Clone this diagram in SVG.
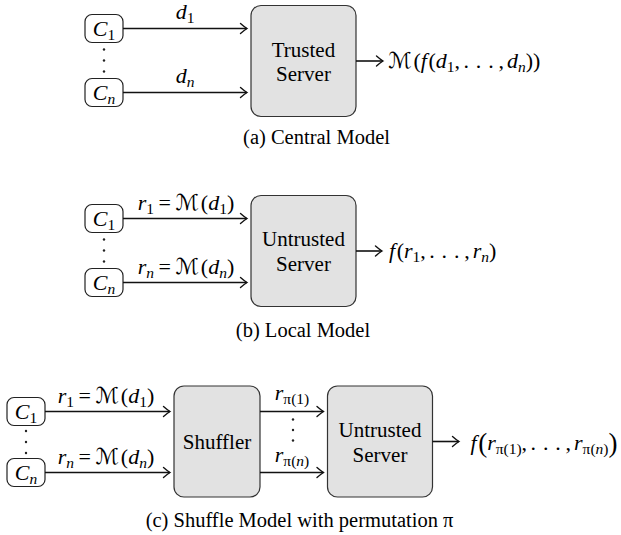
<svg xmlns="http://www.w3.org/2000/svg" width="621" height="535" viewBox="0 0 621 535">
<style>
.t{font-family:"Liberation Serif","Times New Roman","DejaVu Serif",serif;font-size:20.5px;fill:#000}
.b{font-size:21px}
.m{font-size:22px}
.i{font-style:italic}
.s{font-size:15.5px}
.cal{font-family:"DejaVu Serif","DejaVu Sans",serif;font-style:normal}
.big{font-size:27px}
.dots{letter-spacing:6.8px}
.box{fill:#e2e2e2;stroke:#333;stroke-width:1.2}
.cbox{fill:#fff;stroke:#222;stroke-width:1.2}
.arr{stroke:#111;stroke-width:1.6;fill:none;marker-end:url(#ah)}
.dot{fill:#222}
</style>
<defs>
<marker id="ah" markerUnits="userSpaceOnUse" viewBox="-9 -7 11 14" markerWidth="11" markerHeight="14" refX="0" refY="0" orient="auto">
<path d="M-6.5,-5 Q-2.5,-1.5 0,0 Q-2.5,1.5 -6.5,5" fill="none" stroke="#111" stroke-width="1.4" stroke-linecap="round"/>
</marker>
</defs>

<!-- (a) Central model -->
<g id="a-c1"><rect class="cbox" x="85" y="14.5" width="38" height="28" rx="7"/><text class="t m" x="104" y="36" text-anchor="middle"><tspan class="i">C</tspan><tspan class="s" dy="3.5">1</tspan></text></g>
<g id="a-cn"><rect class="cbox" x="85" y="78.5" width="38" height="28" rx="7"/><text class="t m" x="104" y="100" text-anchor="middle"><tspan class="i">C</tspan><tspan class="s i" dy="3.5">n</tspan></text></g>
<g id="a-dots"><circle class="dot" cx="104" cy="49.5" r="1.2"/><circle class="dot" cx="104" cy="60.5" r="1.2"/><circle class="dot" cx="104" cy="71.5" r="1.2"/></g>
<g id="a-server"><rect class="box" x="251" y="5.5" width="105" height="111" rx="10"/><text class="t b" x="303.5" y="56.5" text-anchor="middle">Trusted</text><text class="t b" x="303.5" y="81" text-anchor="middle">Server</text></g>
<g id="a-out"><text class="t m" x="388" y="68"><tspan class="cal">ℳ</tspan><tspan dx="2">(</tspan><tspan class="i">f</tspan><tspan dx="1.5">(</tspan><tspan class="i">d</tspan><tspan class="s" dy="4">1</tspan><tspan dy="-4">,</tspan><tspan class="dots" dx="3.5">..</tspan><tspan>.</tspan><tspan dx="4.8">,</tspan><tspan class="i" dx="3">d</tspan><tspan class="s i" dy="4">n</tspan><tspan dy="-4">))</tspan></text></g>
<g id="a-caption"><text class="t" x="316.5" y="143.5" text-anchor="middle">(a) Central Model</text></g>

<!-- (b) Local model -->
<g id="b-c1"><rect class="cbox" x="85" y="204.5" width="38" height="28" rx="7"/><text class="t m" x="104" y="226" text-anchor="middle"><tspan class="i">C</tspan><tspan class="s" dy="3.5">1</tspan></text></g>
<g id="b-cn"><rect class="cbox" x="85" y="268.5" width="38" height="28" rx="7"/><text class="t m" x="104" y="290" text-anchor="middle"><tspan class="i">C</tspan><tspan class="s i" dy="3.5">n</tspan></text></g>
<g id="b-dots"><circle class="dot" cx="104" cy="239.5" r="1.2"/><circle class="dot" cx="104" cy="250.5" r="1.2"/><circle class="dot" cx="104" cy="261.5" r="1.2"/></g>
<g id="b-server"><rect class="box" x="251" y="195.5" width="105" height="111" rx="10"/><text class="t b" x="303.5" y="245.5" text-anchor="middle">Untrusted</text><text class="t b" x="303.5" y="270.5" text-anchor="middle">Server</text></g>
<g id="b-out"><text class="t m" x="389" y="258"><tspan class="i">f</tspan><tspan dx="1.5">(</tspan><tspan class="i">r</tspan><tspan class="s" dy="4">1</tspan><tspan dy="-4">,</tspan><tspan class="dots" dx="3.5">..</tspan><tspan>.</tspan><tspan dx="4.8">,</tspan><tspan class="i" dx="3">r</tspan><tspan class="s i" dy="4">n</tspan><tspan dy="-4">)</tspan></text></g>
<g id="b-caption"><text class="t" x="303" y="336.5" text-anchor="middle">(b) Local Model</text></g>

<!-- (c) Shuffle model -->
<g id="c-c1"><rect class="cbox" x="7" y="397.5" width="38" height="28" rx="7"/><text class="t m" x="26" y="419" text-anchor="middle"><tspan class="i">C</tspan><tspan class="s" dy="3.5">1</tspan></text></g>
<g id="c-cn"><rect class="cbox" x="7" y="458.5" width="38" height="28" rx="7"/><text class="t m" x="26" y="480" text-anchor="middle"><tspan class="i">C</tspan><tspan class="s i" dy="3.5">n</tspan></text></g>
<g id="c-dots"><circle class="dot" cx="26" cy="431" r="1.2"/><circle class="dot" cx="26" cy="442" r="1.2"/><circle class="dot" cx="26" cy="453" r="1.2"/></g>
<g id="c-shuffler"><rect class="box" x="174" y="386" width="86" height="111" rx="10"/><text class="t b" x="217" y="448.5" text-anchor="middle">Shuffler</text></g>
<g id="c-server"><rect class="box" x="327.5" y="386" width="105" height="111" rx="10"/><text class="t b" x="380" y="436.5" text-anchor="middle">Untrusted</text><text class="t b" x="380" y="461.5" text-anchor="middle">Server</text></g>
<g id="c-pdots"><circle class="dot" cx="293" cy="419.5" r="1.2"/><circle class="dot" cx="293" cy="430" r="1.2"/><circle class="dot" cx="293" cy="440.5" r="1.2"/></g>
<g id="c-out"><text class="t m" x="470.5" y="450"><tspan class="i">f</tspan><tspan class="big" dx="1.5" dy="2">(</tspan><tspan class="i" dy="-2">r</tspan><tspan class="s" dy="4">π(1)</tspan><tspan dy="-4">,</tspan><tspan class="dots" dx="3.5">..</tspan><tspan>.</tspan><tspan dx="4.8">,</tspan><tspan class="i" dx="3">r</tspan><tspan class="s" dy="4">π(</tspan><tspan class="s i">n</tspan><tspan class="s">)</tspan><tspan class="big" dy="-2">)</tspan></text></g>
<g id="c-caption"><text class="t" x="299.5" y="526.5" text-anchor="middle">(c) Shuffle Model with permutation π</text></g>

<!-- connectors -->
<g id="connectors">
<line class="arr" x1="123" y1="28.5" x2="247" y2="28.5"/>
<line class="arr" x1="123" y1="92.5" x2="247" y2="92.5"/>
<line class="arr" x1="356" y1="61" x2="383" y2="61"/>
<line class="arr" x1="123" y1="218.5" x2="247" y2="218.5"/>
<line class="arr" x1="123" y1="282.5" x2="247" y2="282.5"/>
<line class="arr" x1="356" y1="251" x2="382" y2="251"/>
<line class="arr" x1="45" y1="411.5" x2="170" y2="411.5"/>
<line class="arr" x1="45" y1="472.5" x2="170" y2="472.5"/>
<line class="arr" x1="260" y1="411.5" x2="323.5" y2="411.5"/>
<line class="arr" x1="260" y1="472.5" x2="323.5" y2="472.5"/>
<line class="arr" x1="432.5" y1="441.5" x2="459" y2="441.5"/>
</g>
<g id="connector-labels">
<text class="t m" x="185" y="18.5" text-anchor="middle"><tspan class="i">d</tspan><tspan class="s" dy="4">1</tspan></text>
<text class="t m" x="185" y="82.5" text-anchor="middle"><tspan class="i">d</tspan><tspan class="s i" dy="4">n</tspan></text>
<text class="t m" x="186" y="209.5" text-anchor="middle"><tspan class="i">r</tspan><tspan class="s" dy="4">1</tspan><tspan dy="-4">&#x2009;=&#x2009;</tspan><tspan class="cal">ℳ</tspan><tspan dx="2">(</tspan><tspan class="i">d</tspan><tspan class="s" dy="4">1</tspan><tspan dy="-4">)</tspan></text>
<text class="t m" x="186" y="273.5" text-anchor="middle"><tspan class="i">r</tspan><tspan class="s i" dy="4">n</tspan><tspan dy="-4">&#x2009;=&#x2009;</tspan><tspan class="cal">ℳ</tspan><tspan dx="2">(</tspan><tspan class="i">d</tspan><tspan class="s i" dy="4">n</tspan><tspan dy="-4">)</tspan></text>
<text class="t m" x="106" y="402.5" text-anchor="middle"><tspan class="i">r</tspan><tspan class="s" dy="4">1</tspan><tspan dy="-4">&#x2009;=&#x2009;</tspan><tspan class="cal">ℳ</tspan><tspan dx="2">(</tspan><tspan class="i">d</tspan><tspan class="s" dy="4">1</tspan><tspan dy="-4">)</tspan></text>
<text class="t m" x="106" y="463.5" text-anchor="middle"><tspan class="i">r</tspan><tspan class="s i" dy="4">n</tspan><tspan dy="-4">&#x2009;=&#x2009;</tspan><tspan class="cal">ℳ</tspan><tspan dx="2">(</tspan><tspan class="i">d</tspan><tspan class="s i" dy="4">n</tspan><tspan dy="-4">)</tspan></text>
<text class="t m" x="292" y="400" text-anchor="middle"><tspan class="i">r</tspan><tspan class="s" dy="4">π(1)</tspan></text>
<text class="t m" x="292" y="461.5" text-anchor="middle"><tspan class="i">r</tspan><tspan class="s" dy="4">π(</tspan><tspan class="s i">n</tspan><tspan class="s">)</tspan></text>
</g>
</svg>
